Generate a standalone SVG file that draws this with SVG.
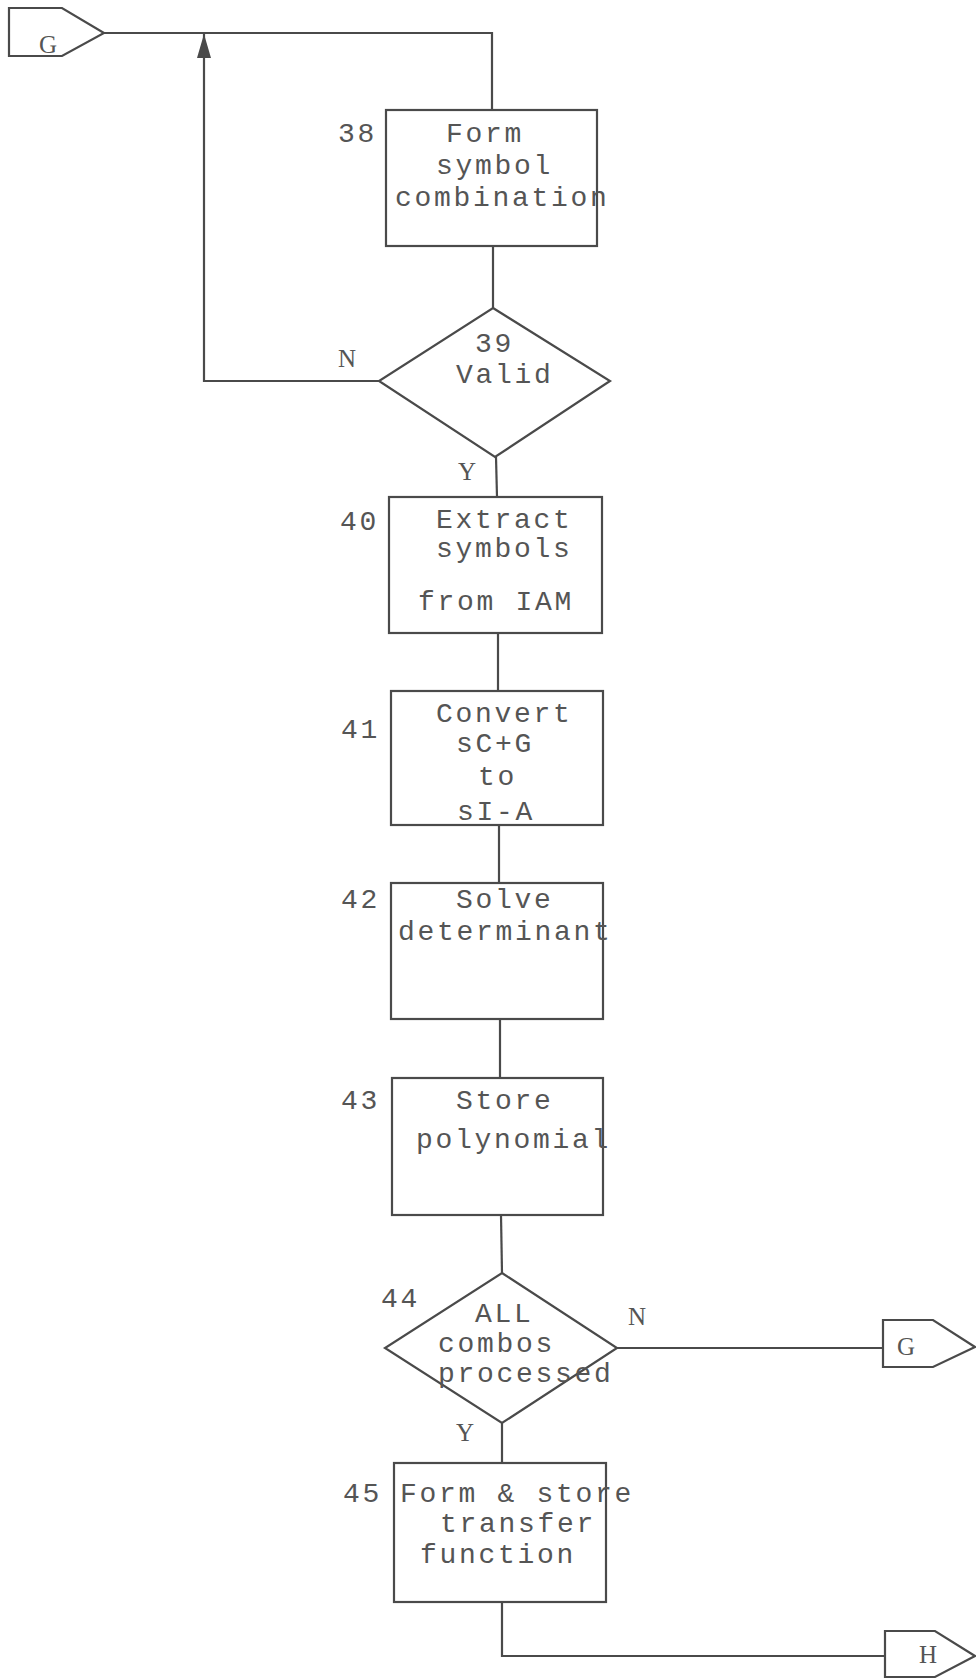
<svg xmlns="http://www.w3.org/2000/svg" width="976" height="1679" viewBox="0 0 976 1679">
<defs>
<style>
.shape{fill:none;stroke:#4a4a4a;stroke-width:2.2;stroke-linejoin:miter}
.conn{fill:none;stroke:#4a4a4a;stroke-width:2.2}
.t{font-family:"Liberation Mono","Courier New",monospace;font-size:28px;letter-spacing:2.7px;fill:#555}
.l{font-family:"Liberation Serif","Times New Roman",serif;font-size:25px;fill:#555}
</style>
<marker id="arr" viewBox="0 0 24 14" refX="24" refY="7" markerWidth="24" markerHeight="14" markerUnits="userSpaceOnUse" orient="auto">
<path d="M0,0 L24,7 L0,14 Z" fill="#4a4a4a"/>
</marker>
</defs>
<rect width="976" height="1679" fill="#ffffff"/>

<g id="connectors">
<polyline class="conn" points="104,33 492,33 492,110"/>
<line class="conn" x1="493" y1="246" x2="493" y2="308"/>
<polyline class="conn" points="379,381 204,381 204,34" marker-end="url(#arr)"/>
<line class="conn" x1="496" y1="457" x2="497" y2="497"/>
<line class="conn" x1="498" y1="633" x2="498" y2="691"/>
<line class="conn" x1="499" y1="825" x2="499" y2="883"/>
<line class="conn" x1="500" y1="1019" x2="500" y2="1078"/>
<line class="conn" x1="501" y1="1215" x2="502" y2="1273"/>
<line class="conn" x1="617" y1="1348" x2="883" y2="1348"/>
<line class="conn" x1="502" y1="1423" x2="502" y2="1463"/>
<polyline class="conn" points="502,1602 502,1656 885,1656"/>
<text class="l" x="338" y="367">N</text>
<text class="l" x="458" y="480">Y</text>
<text class="l" x="628" y="1325">N</text>
<text class="l" x="456" y="1441">Y</text>
</g>

<g id="G_top">
<path class="shape" d="M9,8 L62,8 L104,33 L62,56 L9,56 Z"/>
<text class="l" x="39" y="53">G</text>
</g>

<g id="n38">
<rect class="shape" x="386" y="110" width="211" height="136"/>
<text class="t" x="338" y="142">38</text>
<text class="t" x="446" y="142">Form</text>
<text class="t" x="436" y="174">symbol</text>
<text class="t" x="395" y="206">combination</text>
</g>

<g id="n39">
<polygon class="shape" points="493,308 610,381 495,457 379,381"/>
<text class="t" x="475" y="352">39</text>
<text class="t" x="456" y="383">Valid</text>
</g>

<g id="n40">
<rect class="shape" x="389" y="497" width="213" height="136"/>
<text class="t" x="340" y="530">40</text>
<text class="t" x="436" y="528">Extract</text>
<text class="t" x="436" y="557">symbols</text>
<text class="t" x="418" y="610">from IAM</text>
</g>

<g id="n41">
<rect class="shape" x="391" y="691" width="212" height="134"/>
<text class="t" x="341" y="738">41</text>
<text class="t" x="436" y="722">Convert</text>
<text class="t" x="456" y="752">sC+G</text>
<text class="t" x="478" y="785">to</text>
<text class="t" x="457" y="820">sI-A</text>
</g>

<g id="n42">
<rect class="shape" x="391" y="883" width="212" height="136"/>
<text class="t" x="341" y="908">42</text>
<text class="t" x="456" y="908">Solve</text>
<text class="t" x="398" y="940">determinant</text>
</g>

<g id="n43">
<rect class="shape" x="392" y="1078" width="211" height="137"/>
<text class="t" x="341" y="1109">43</text>
<text class="t" x="456" y="1109">Store</text>
<text class="t" x="416" y="1148">polynomial</text>
</g>

<g id="n44">
<polygon class="shape" points="502,1273 617,1348 502,1423 385,1348"/>
<text class="t" x="381" y="1307">44</text>
<text class="t" x="475" y="1322">ALL</text>
<text class="t" x="438" y="1352">combos</text>
<text class="t" x="438" y="1382">processed</text>
</g>

<g id="G_bottom">
<path class="shape" d="M883,1320 L933,1320 L975,1347 L933,1367 L883,1367 Z"/>
<text class="l" x="897" y="1355">G</text>
</g>

<g id="n45">
<rect class="shape" x="394" y="1463" width="212" height="139"/>
<text class="t" x="343" y="1502">45</text>
<text class="t" x="400" y="1502">Form &amp; store</text>
<text class="t" x="440" y="1532">transfer</text>
<text class="t" x="420" y="1563">function</text>
</g>

<g id="H_out">
<path class="shape" d="M885,1631 L935,1631 L975,1656 L935,1677 L885,1677 Z"/>
<text class="l" x="919" y="1663">H</text>
</g>
</svg>
